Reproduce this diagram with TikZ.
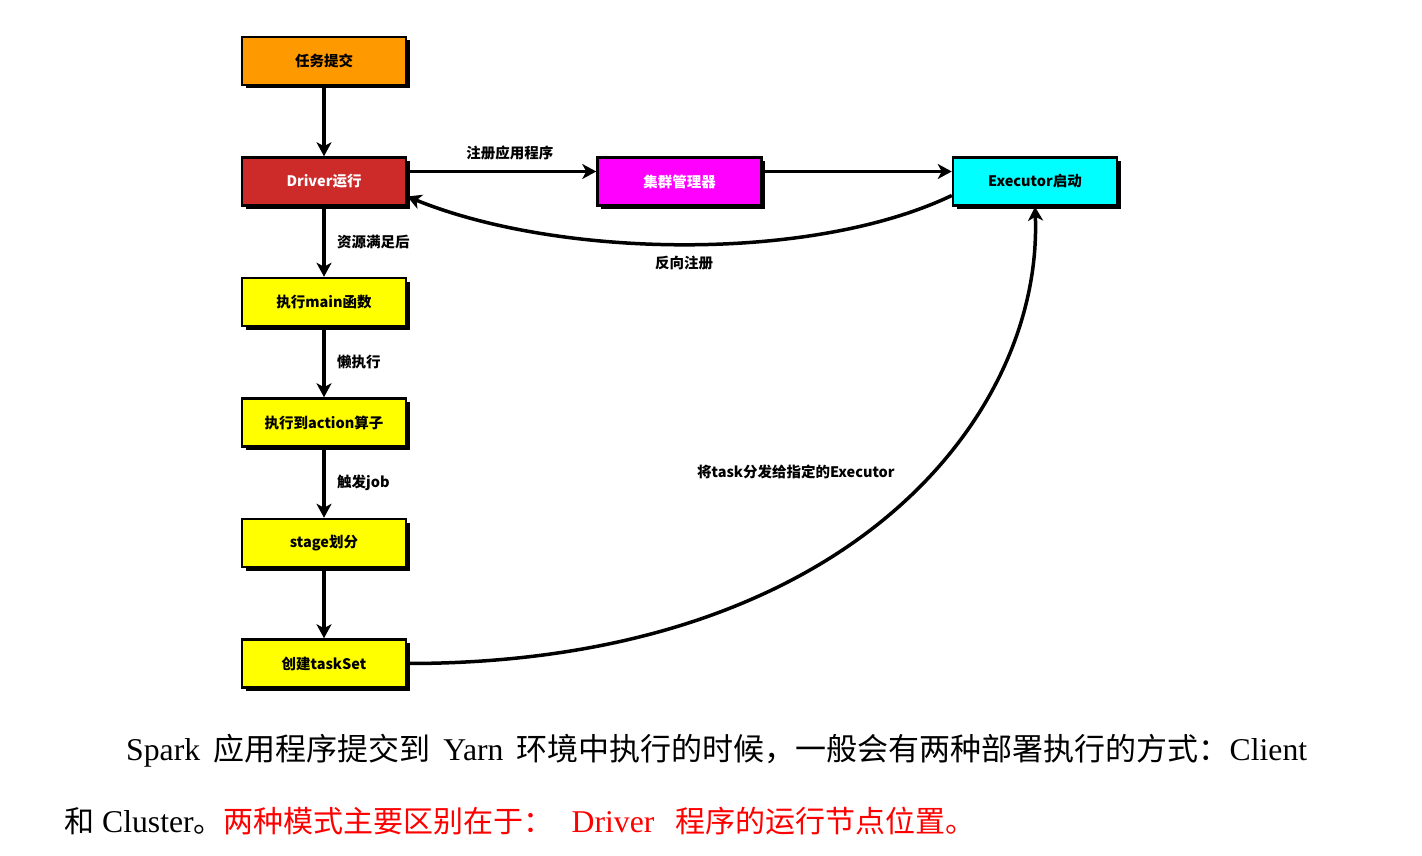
\documentclass[tikz,border=0pt]{standalone}
\usepackage{fontspec}
\setmainfont{Liberation Serif}
\newfontfamily\cjk{Noto Sans CJK SC}
\usetikzlibrary{arrows.meta,shadows,positioning,calc}

\definecolor{submitorange}{HTML}{FF9900}
\definecolor{driverred}{RGB}{205,42,42}
\definecolor{clustermagenta}{HTML}{FF00FF}
\definecolor{executorcyan}{HTML}{00FFFF}
\definecolor{stepyellow}{HTML}{FFFF00}
\definecolor{notered}{HTML}{FF0000}

\tikzset{
  box/.style={draw, line width=2.5pt, minimum width=164pt, minimum height=48pt, inner sep=0pt,
    font=\cjk\bfseries\fontsize{14.5}{17}\selectfont,
    drop shadow={shadow xshift=3.5pt, shadow yshift=-3.5pt, fill=black, opacity=1}},
  flow/.style={line width=3.5pt, -{Stealth[length=14pt,width=15pt,inset=4pt]}},
  lbl/.style={font=\cjk\bfseries\fontsize{14.5}{17}\selectfont},
  para/.style={anchor=west, inner sep=0pt, font=\fontsize{31.7}{36}\selectfont}
}
\newcommand{\zh}[1]{{\cjk\fontsize{30}{36}\selectfont #1}}
\newcommand{\zhwide}[1]{{\cjk\fontsize{31}{36}\selectfont #1}}
\newcommand{\gap}{\hspace{10pt plus 10pt}}

\begin{document}
\begin{tikzpicture}[x=1pt, y=-1pt, node distance=70pt and 189pt]
\useasboundingbox (0,0) rectangle (1422,856);

\node [box, fill=submitorange] (submit) at (324,61) {任务提交};
\node [box, fill=driverred, text=white] (driver) [below=of submit] {Driver运行};
\node [box, fill=clustermagenta, text=white] (cluster) [right=of driver] {集群管理器};
\node [box, fill=executorcyan] (executor) [right=of cluster] {Executor启动};
\node [box, fill=stepyellow] (mainfn) [below=of driver] {执行main函数};
\node [box, fill=stepyellow] (action) [below=of mainfn] {执行到action算子};
\node [box, fill=stepyellow] (stage) [below=of action] {stage划分};
\node [box, fill=stepyellow] (taskset) [below=of stage] {创建taskSet};

\draw [flow] (submit) -- (driver);
\draw [flow] (driver) to node [right=8pt, lbl] {资源满足后} (mainfn);
\draw [flow] (mainfn) to node [right=8pt, lbl] {懒执行} (action);
\draw [flow] (action) to node [right=8pt, lbl] {触发job} (stage);
\draw [flow] (stage) -- (taskset);
\draw [flow] ([yshift=10pt]driver.east) to node [above=6pt, xshift=8pt, lbl] {注册应用程序} ([yshift=10pt]cluster.west);
\draw [flow] ([yshift=10pt]cluster.east) -- ([yshift=10pt]executor.west);
\draw [flow] ([yshift=-14pt]executor.west) .. controls +(-140,67) and +(152,62) .. node [below=7pt, lbl] {反向注册} ([yshift=-15pt]driver.east);
\draw [flow] (taskset.east) .. controls +(440,0) and +(8,210) .. node [pos=0.56, left=24pt, yshift=9pt, lbl] {将task分发给指定的Executor} (executor.south);

% text below the diagram
\node [para] (line1) at (126,751)
  {\makebox[1181pt][s]{Spark\gap\zhwide{应用程序提交到}\gap Yarn\gap\zhwide{环境中执行的时候，一般会有两种部署执行的方式：}Client}};
\node [para] (line2) at (64,821)
  {\zh{和} Cluster\zh{。}\textcolor{notered}{\zh{两种模式主要区别在于：}\hspace{18pt}Driver\hspace{21pt}\zh{程序的运行节点位置。}}};
\end{tikzpicture}
\end{document}
